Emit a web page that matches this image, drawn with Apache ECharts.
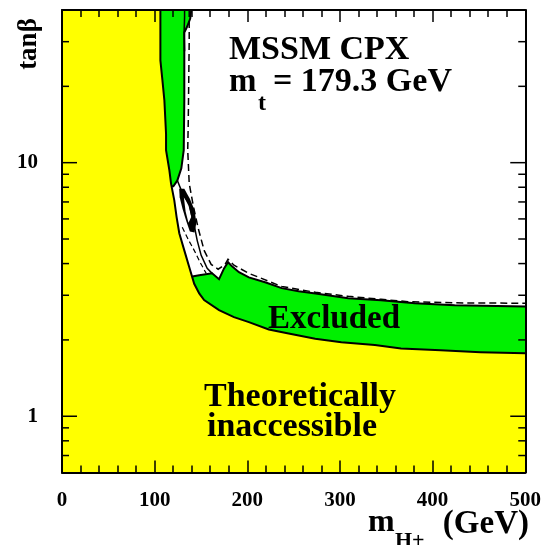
<!DOCTYPE html>
<html>
<head>
<meta charset="utf-8">
<script src="https://cdn.jsdelivr.net/npm/echarts@6/dist/echarts.min.js"></script>
<style>
  html, body { margin: 0; padding: 0; background: #fff; }
  #chart { width: 544px; height: 545px; }
</style>
</head>
<body>
<div id="chart"></div>
<script>
// Charged Higgs search in the CPX scenario: m_H+ (GeV) vs tan(beta)
const xRange = [0, 500];
const yRange = [0.6, 40];
const yLabelValues = [1, 10];
const yMajorTicks = [1, 10];
const yMinorTicks = [0.7, 0.8, 0.9, 2, 3, 4, 5, 6, 7, 8, 9, 20, 30];

// upper edge of the theoretically inaccessible region [m_H+, tan(beta)]
const theoryBoundary = [
  [106.2, 40], [106.2, 25.3], [108.4, 21.1], [110.5, 17.6], [112.3, 13.0],
  [112.3, 11.2], [115.9, 9.33], [117.7, 8.27], [121.2, 7.10], [123.7, 6.10],
  [126.6, 5.27], [132.0, 4.51], [137.3, 3.88], [142.7, 3.33], [148.1, 3.05],
  [153.4, 2.87], [169.5, 2.62], [185.6, 2.46], [201.7, 2.35], [223.2, 2.20],
  [244.6, 2.12], [273.3, 2.02], [301.5, 1.96], [337.7, 1.91], [365.9, 1.85],
  [408.8, 1.82], [451.7, 1.79], [500, 1.77]
];

// right edge of the excluded strip at low mass / high tan(beta)
const stripEdge = [
  [139.5, 40], [138.4, 37.0], [135.2, 34.5], [132.0, 32.6], [132.0, 25.3],
  [132.0, 17.6], [131.4, 11.2], [128.8, 9.50], [124.5, 8.51], [120.2, 8.07],
  [118.0, 8.07]
];

// inner contour inside the strip near the top
const stripInner = [[132.3, 40], [132.3, 37.5], [131.8, 33.0], [132.3, 27.5]];

// upper edge of the excluded band at low tan(beta)
const bandEdge = [
  [140.6, 3.56], [148.1, 3.60], [162.0, 3.66], [169.5, 3.47], [174.9, 3.83],
  [179.2, 4.05], [183.5, 3.90], [191.0, 3.70], [201.7, 3.53], [220.0, 3.37],
  [237.1, 3.20], [255.4, 3.11], [273.6, 3.05], [309.0, 2.92], [344.4, 2.87],
  [380.9, 2.79], [423.8, 2.74], [500, 2.71]
];

// expected limit
const expectedLimit = [
  [137.3, 40], [137.3, 30.3], [136.8, 21.1], [136.3, 14.7], [135.7, 11.2],
  [137.3, 8.28], [141.6, 6.79], [147.0, 5.51], [153.4, 4.51], [161.0, 3.97],
  [168.5, 3.80], [176.0, 3.97], [179.2, 4.16], [185.6, 3.94], [201.7, 3.66],
  [237.1, 3.25], [273.6, 3.08], [309.0, 2.97], [344.4, 2.89], [373.4, 2.83],
  [423.8, 2.80], [500, 2.79]
];
const expectedInner = [[129.8, 5.56], [136.0, 5.0], [142.7, 4.51], [149.0, 4.05], [155.6, 3.66]];

// observed contour through the unexcluded pocket
const pocketContour = [
  [124.5, 8.51], [128.8, 7.78], [137.3, 6.79], [142.7, 5.66], [145.9, 4.94],
  [150.2, 4.31], [156.7, 3.83], [162.0, 3.66]
];

// small excluded islands inside the pocket
const pocketIsland = [
  [126.5, 7.9], [132.0, 7.9], [138.0, 7.2], [143.0, 6.5], [145.0, 5.8],
  [143.0, 5.3], [138.0, 5.35], [134.0, 5.9], [130.0, 6.6], [127.0, 7.3]
];
const pocketHole = [[131.5, 7.3], [136.5, 6.9], [139.5, 6.1], [136.5, 5.8], [133.5, 6.4]];

const YELLOW = '#ffff00';
const GREEN = '#00f000';
const SERIF = 'Liberation Serif';

const theoryPolygon = [[0, yRange[1]]].concat(theoryBoundary, [[xRange[1], yRange[0]], [0, yRange[0]]]);
const stripPolygon = theoryBoundary.filter(p => p[1] >= 8.2).concat(stripEdge.slice().reverse());
const bandPolygon = bandEdge.concat(theoryBoundary.filter(p => p[0] >= 142).reverse());

function polygonSeries(pts, style, z) {
  return {
    type: 'custom', coordinateSystem: 'cartesian2d', data: pts, z: z, silent: true,
    renderItem: function (params, api) {
      if (params.dataIndex !== 0) return;
      return { type: 'polygon', shape: { points: pts.map(p => api.coord(p)) }, style: style };
    }
  };
}
function lineSeries(pts, style, z) {
  return {
    type: 'custom', coordinateSystem: 'cartesian2d', data: pts, z: z, silent: true,
    renderItem: function (params, api) {
      if (params.dataIndex !== 0) return;
      return { type: 'polyline', shape: { points: pts.map(p => api.coord(p)) }, style: Object.assign({ fill: null }, style) };
    }
  };
}
function yTickSeries(values, len) {
  return {
    type: 'custom', coordinateSystem: 'cartesian2d', z: 4, silent: true,
    data: values.map(v => [xRange[0], v]),
    renderItem: function (params, api) {
      const v = api.value(1);
      const l = api.coord([xRange[0], v]);
      const r = api.coord([xRange[1], v]);
      const st = { stroke: '#000', lineWidth: 1.5 };
      return {
        type: 'group', children: [
          { type: 'line', shape: { x1: l[0], y1: l[1], x2: l[0] + len, y2: l[1] }, style: st },
          { type: 'line', shape: { x1: r[0], y1: r[1], x2: r[0] - len, y2: r[1] }, style: st }
        ]
      };
    }
  };
}

const labelFont = { fontFamily: SERIF, fontWeight: 'bold', fontSize: 21, color: '#000' };
function xAxisDef(pos, showLabel) {
  return {
    type: 'value', position: pos, min: xRange[0], max: xRange[1], interval: 100, z: 5,
    axisLine: { show: true, onZero: false, lineStyle: { color: '#000', width: 2 } },
    axisTick: { show: true, inside: true, length: 12, lineStyle: { color: '#000', width: 1.5 } },
    minorTick: { show: true, splitNumber: 5, length: 7, lineStyle: { color: '#000', width: 1.5 } },
    splitLine: { show: false }, minorSplitLine: { show: false },
    axisLabel: Object.assign({ show: showLabel, margin: 18 }, labelFont)
  };
}
function yAxisDef(pos, showLabel) {
  return {
    type: 'log', logBase: 10, position: pos, min: yRange[0], max: yRange[1], z: 5,
    axisLine: { show: true, onZero: false, lineStyle: { color: '#000', width: 2 } },
    axisTick: { show: false }, minorTick: { show: false },
    splitLine: { show: false },
    axisLabel: Object.assign({
      show: showLabel, margin: 24,
      formatter: function (v) {
        for (const t of yLabelValues) if (Math.abs(v - t) < 1e-6 * t) return String(t);
        return '';
      }
    }, labelFont)
  };
}

function txt(text, x, y, size, align, extra) {
  return Object.assign({
    type: 'text', x: x, y: y, z: 100,
    style: { text: text, fontFamily: SERIF, fontWeight: 'bold', fontSize: size, fill: '#000', align: align || 'left', verticalAlign: 'middle' }
  }, extra || {});
}

const chart = echarts.init(document.getElementById('chart'), null, { renderer: 'canvas' });
chart.setOption({
  animation: false,
  backgroundColor: '#fff',
  grid: { left: 62, right: 16, top: 10, bottom: 72.5, containLabel: false },
  xAxis: [xAxisDef('bottom', true), xAxisDef('top', false)],
  yAxis: [yAxisDef('left', true), yAxisDef('right', false)],
  series: [
    polygonSeries(theoryPolygon, { fill: YELLOW }, 1),
    polygonSeries(stripPolygon, { fill: GREEN }, 1),
    polygonSeries(bandPolygon, { fill: GREEN }, 1),
    polygonSeries(pocketIsland, { fill: '#000' }, 2),
    polygonSeries(pocketHole, { fill: '#fff' }, 2),
    lineSeries(theoryBoundary, { stroke: '#000', lineWidth: 2 }, 3),
    lineSeries(stripEdge, { stroke: '#000', lineWidth: 2 }, 3),
    lineSeries(stripInner, { stroke: '#000', lineWidth: 1.5 }, 3),
    lineSeries(bandEdge, { stroke: '#000', lineWidth: 2 }, 3),
    lineSeries(pocketContour, { stroke: '#000', lineWidth: 1.5 }, 3),
    lineSeries(expectedLimit, { stroke: '#000', lineWidth: 1.5, lineDash: [7, 4] }, 3),
    lineSeries(expectedInner, { stroke: '#000', lineWidth: 1.2, lineDash: [5, 3] }, 3),
    yTickSeries(yMajorTicks, 15),
    yTickSeries(yMinorTicks, 7)
  ],
  graphic: { elements: [
    txt('MSSM CPX', 229, 50, 34),
    txt('m', 229, 82, 33),
    txt('t', 258, 104, 24),
    txt('= 179.3 GeV', 273, 82, 34),
    txt('Excluded', 268, 319, 33),
    txt('Theoretically', 204, 397, 34),
    txt('inaccessible', 207, 427, 34),
    txt('m', 368, 523, 32),
    txt('H+', 395, 541, 22),
    txt('(GeV)', 529, 524, 33, 'right'),
    txt('tan\u03b2', 29, 44, 27, 'left', { rotation: Math.PI / 2, style: { text: 'tan\u03b2', fontFamily: SERIF, fontWeight: 'bold', fontSize: 27, fill: '#000', align: 'center', verticalAlign: 'middle' } })
  ] }
});
</script>
</body>
</html>
